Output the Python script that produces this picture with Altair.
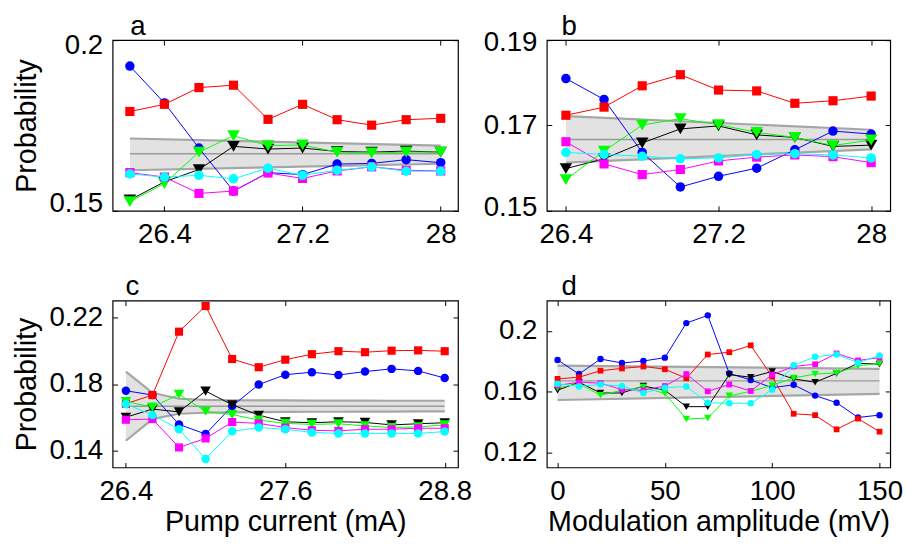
import altair as alt
import pandas as pd

FONT = "Liberation Sans"

# ---------------- data ----------------
series_names = ["blue", "red", "black", "green", "magenta", "cyan"]
series_colors = {"blue": "#0000ff", "red": "#ff0000", "black": "#000000",
                 "green": "#00ff00", "magenta": "#ff00ff", "cyan": "#00ffff"}
series_shapes = {"blue": "circle", "red": "square", "black": "triangle-down",
                 "green": "triangle-down", "magenta": "square", "cyan": "circle"}

# panel a
a_x = [26.2, 26.4, 26.6, 26.8, 27.0, 27.2, 27.4, 27.6, 27.8, 28.0]
a_red = [0.1791, 0.1812, 0.1861, 0.1868, 0.1768, 0.1812, 0.1767, 0.1751, 0.1767, 0.1771]
a_blue = [0.1924, 0.1816, 0.1684, 0.1558, 0.1612, 0.1606, 0.1637, 0.1639, 0.1650, 0.1641]
a_black = [0.1532, 0.1585, 0.1621, 0.1689, 0.1681, 0.1684, 0.1674, 0.1672, 0.1675, 0.1672]
a_green = [0.1527, 0.1580, 0.1672, 0.1720, 0.1691, 0.1693, 0.1672, 0.1670, 0.1672, 0.1672]
a_magenta = [0.1612, 0.1599, 0.1551, 0.1558, 0.1611, 0.1595, 0.1617, 0.1629, 0.1619, 0.1617]
a_cyan = [0.1608, 0.1599, 0.1604, 0.1594, 0.1625, 0.1604, 0.1619, 0.1629, 0.1616, 0.1616]
a_band_x = [26.2, 28.0]
a_band_hi = [0.1712, 0.1691]
a_band_lo = [0.1619, 0.1638]
a_band_mid = [0.1667, 0.1667]

# panel b
b_x = [26.4, 26.6, 26.8, 27.0, 27.2, 27.4, 27.6, 27.8, 28.0]
b_red = [0.1724, 0.1743, 0.1793, 0.1819, 0.1783, 0.1781, 0.1752, 0.1758, 0.1769]
b_blue = [0.1810, 0.1761, 0.1637, 0.1556, 0.1581, 0.1600, 0.1643, 0.1687, 0.1680]
b_black = [0.1599, 0.1622, 0.1659, 0.1692, 0.1699, 0.1678, 0.1672, 0.1651, 0.1654]
b_green = [0.1573, 0.1640, 0.1701, 0.1716, 0.1702, 0.1684, 0.1672, 0.1653, 0.1666]
b_magenta = [0.1662, 0.1610, 0.1585, 0.1597, 0.1617, 0.1626, 0.1631, 0.1627, 0.1613]
b_cyan = [0.1637, 0.1632, 0.1628, 0.1622, 0.1624, 0.1632, 0.1634, 0.1631, 0.1624]
b_band_x = [26.4, 28.0]
b_band_hi = [0.1722, 0.1690]
b_band_lo = [0.1613, 0.1644]
b_band_mid = [0.1667, 0.1667]

# panel c
c_x = [26.4, 26.6, 26.8, 27.0, 27.2, 27.4, 27.6, 27.8, 28.0, 28.2, 28.4, 28.6, 28.8]
c_red = [0.1682, 0.1734, 0.2114, 0.2268, 0.1950, 0.1901, 0.1946, 0.1979, 0.1997, 0.1991, 0.2000, 0.2002, 0.1997]
c_blue = [0.1760, 0.1734, 0.1558, 0.1500, 0.1668, 0.1797, 0.1856, 0.1871, 0.1854, 0.1875, 0.1891, 0.1879, 0.1836]
c_black = [0.1601, 0.1650, 0.1633, 0.1758, 0.1676, 0.1613, 0.1574, 0.1568, 0.1574, 0.1570, 0.1555, 0.1562, 0.1568]
c_green = [0.1695, 0.1662, 0.1738, 0.1637, 0.1617, 0.1584, 0.1564, 0.1558, 0.1562, 0.1549, 0.1539, 0.1543, 0.1555]
c_magenta = [0.1586, 0.1590, 0.1420, 0.1474, 0.1572, 0.1564, 0.1539, 0.1523, 0.1519, 0.1529, 0.1529, 0.1535, 0.1535]
c_cyan = [0.1680, 0.1615, 0.1529, 0.1351, 0.1517, 0.1539, 0.1529, 0.1510, 0.1504, 0.1504, 0.1504, 0.1504, 0.1515]
c_band_x = c_x
c_band_hi = [0.1875, 0.1748, 0.1712, 0.1705, 0.1703, 0.1702, 0.1702, 0.1701, 0.1701, 0.1701, 0.1700, 0.1700, 0.1700]
c_band_lo = [0.1460, 0.1590, 0.1622, 0.1628, 0.1630, 0.1632, 0.1633, 0.1634, 0.1634, 0.1635, 0.1635, 0.1636, 0.1636]
c_band_mid = [0.1667] * 13

# panel d
d_x = [0, 10, 20, 30, 40, 50, 60, 70, 80, 90, 100, 110, 120, 130, 140, 150]
d_blue = [0.1809, 0.1716, 0.1815, 0.1789, 0.1802, 0.1824, 0.2052, 0.2103, 0.1720, 0.1677, 0.1626, 0.1645, 0.1574, 0.1527, 0.1430, 0.1445]
d_red = [0.1684, 0.1695, 0.1738, 0.1753, 0.1766, 0.1748, 0.1688, 0.1845, 0.1860, 0.1905, 0.1699, 0.1454, 0.1445, 0.1351, 0.1422, 0.1336]
d_black = [0.1609, 0.1662, 0.1591, 0.1591, 0.1637, 0.1609, 0.1501, 0.1501, 0.1712, 0.1695, 0.1733, 0.1684, 0.1662, 0.1720, 0.1787, 0.1781]
d_green = [0.1624, 0.1652, 0.1576, 0.1609, 0.1630, 0.1587, 0.1419, 0.1426, 0.1572, 0.1602, 0.1641, 0.1690, 0.1716, 0.1723, 0.1770, 0.1785]
d_magenta = [0.1641, 0.1662, 0.1656, 0.1613, 0.1609, 0.1637, 0.1716, 0.1602, 0.1647, 0.1604, 0.1712, 0.1766, 0.1781, 0.1852, 0.1806, 0.1824]
d_cyan = [0.1652, 0.1634, 0.1647, 0.1637, 0.1591, 0.1626, 0.1634, 0.1527, 0.1523, 0.1523, 0.1613, 0.1774, 0.1830, 0.1845, 0.1791, 0.1839]
d_band_x = [0, 150]
d_band_hi = [0.1772, 0.1750]
d_band_lo = [0.1545, 0.1585]
d_band_mid = [0.1671, 0.1671]

# axis ticks
a_xticks, a_yticks = [26.4, 27.2, 28], [0.15, 0.2]
b_xticks, b_yticks = [26.4, 27.2, 28], [0.15, 0.17, 0.19]
c_xticks, c_yticks = [26.4, 27.6, 28.8], [0.14, 0.18, 0.22]
d_xticks, d_yticks = [0, 50, 100, 150], [0.12, 0.16, 0.2]

LABEL_EXPR = "format(datum.value, '~g')"


def panel(x, ys, bx, bhi, blo, bmid, xdom, ydom, xticks, yticks, letter, dx,
          toff, xtitle, ytitle, w, h, msize, ylab_offset):
    rows = []
    for name in series_names:
        for xv, yv in zip(x, ys[name]):
            rows.append({"x": xv, "y": yv, "s": name})
    df = pd.DataFrame(rows)
    band = pd.DataFrame({"x": bx, "hi": bhi, "lo": blo, "mid": bmid})

    xs = alt.Scale(domain=xdom, nice=False, zero=False)
    ysc = alt.Scale(domain=ydom, nice=False, zero=False)

    top_axis = alt.Axis(orient="top", values=xticks, labels=False, offset=-5,
                        tickSize=5, title=None, domain=False, grid=False)
    right_axis = alt.Axis(orient="right", values=yticks, labels=False, offset=-5,
                          tickSize=5, title=None, domain=False, grid=False)
    bottom_axis = alt.Axis(orient="bottom", values=xticks, labelExpr=LABEL_EXPR,
                           offset=-5, tickSize=5, labelPadding=10, labelFlush=False,
                           labelOverlap=False,
                           title=xtitle if xtitle else None, titlePadding=3,
                           domain=False, grid=False)
    left_kw = dict(orient="left", values=yticks, labelExpr=LABEL_EXPR, offset=-5,
                   tickSize=5, labelPadding=10, labelOverlap=False,
                   labelFlush=False,
                   title=ytitle if ytitle else None,
                   titlePadding=8, domain=False, grid=False)
    if ylab_offset is not None:
        left_kw["labelOffset"] = ylab_offset
    left_axis = alt.Axis(**left_kw)

    base_b = alt.Chart(band)
    area = base_b.mark_area(color="#e2e2e2", opacity=1).encode(
        x=alt.X("x:Q", scale=xs, axis=top_axis),
        y=alt.Y("hi:Q", scale=ysc, axis=right_axis),
        y2="lo:Q",
    )
    edges = [
        base_b.mark_line(color="#a6a6a6", strokeWidth=2.2).encode(
            x=alt.X("x:Q", scale=xs, axis=None),
            y=alt.Y(f"{col}:Q", scale=ysc, axis=None))
        for col in ["hi", "lo"]
    ]
    mid = base_b.mark_line(color="#9a9a9a", strokeWidth=1.5).encode(
        x=alt.X("x:Q", scale=xs, axis=None),
        y=alt.Y("mid:Q", scale=ysc, axis=None))

    layers = [area] + edges + [mid]
    for i, name in enumerate(series_names):
        shape = series_shapes[name]
        size = msize[shape]
        col = series_colors[name]
        lyr = alt.Chart(df).transform_filter(alt.datum.s == name).mark_line(
            color=col, strokeWidth=1,
            point=alt.OverlayMarkDef(shape=shape, size=size, filled=True,
                                     color=col, opacity=1, strokeWidth=0),
        ).encode(
            x=alt.X("x:Q", scale=xs, axis=bottom_axis if i == 0 else None),
            y=alt.Y("y:Q", scale=ysc, axis=left_axis if i == 0 else None),
        )
        layers.append(lyr)

    return alt.layer(*layers).properties(
        width=w, height=h,
        title=alt.TitleParams(letter, anchor="start", frame="group", dx=dx,
                              offset=toff, fontSize=28, font=FONT,
                              fontWeight="normal", color="black"),
    )


big = {"circle": 92, "square": 86, "triangle-down": 160}
mid_sz = {"circle": 74, "square": 68, "triangle-down": 115}
small = {"circle": 42, "square": 34, "triangle-down": 58}

a_lab_off = {"condition": {"test": "datum.value > 0.17", "value": 6}, "value": -7}
b_lab_off = {"condition": [{"test": "datum.value > 0.18", "value": 2},
                           {"test": "datum.value < 0.16", "value": -3}],
             "value": 0}

pa = panel(a_x, {"red": a_red, "blue": a_blue, "black": a_black, "green": a_green,
                 "magenta": a_magenta, "cyan": a_cyan},
           a_band_x, a_band_hi, a_band_lo, a_band_mid,
           [26.1, 28.1], [0.15, 0.2], a_xticks, a_yticks, "a", 18, -9,
           None, "Probability", 350, 173, big, a_lab_off)
pb = panel(b_x, {"red": b_red, "blue": b_blue, "black": b_black, "green": b_green,
                 "magenta": b_magenta, "cyan": b_cyan},
           b_band_x, b_band_hi, b_band_lo, b_band_mid,
           [26.3, 28.1], [0.15, 0.19], b_xticks, b_yticks, "b", 15, -13,
           None, None, 348, 173, big, b_lab_off)
pc = panel(c_x, {"red": c_red, "blue": c_blue, "black": c_black, "green": c_green,
                 "magenta": c_magenta, "cyan": c_cyan},
           c_band_x, c_band_hi, c_band_lo, c_band_mid,
           [26.3, 28.9], [0.13, 0.23], c_xticks, c_yticks, "c", 13, -1,
           "Pump current (mA)", "Probability", 350, 169, mid_sz, None)
pd_ = panel(d_x, {"red": d_red, "blue": d_blue, "black": d_black, "green": d_green,
                  "magenta": d_magenta, "cyan": d_cyan},
            d_band_x, d_band_hi, d_band_lo, d_band_mid,
            [-5, 155], [0.11, 0.22], d_xticks, d_yticks, "d", 15, -1,
            "Modulation amplitude (mV)", None, 348, 169, small, None)

chart = alt.concat(
    pa, pb, pc, pd_, columns=2, spacing={"row": 91, "column": 90}, bounds="flush"
).properties(
    padding={"left": 3, "top": 1, "right": 4, "bottom": 2},
    background="white",
).configure_axis(
    labelFont=FONT, titleFont=FONT, labelFontSize=28, titleFontSize=29,
    labelColor="black", titleColor="black", titleFontWeight="normal",
    tickColor="black", tickWidth=1, grid=False, domain=False,
).configure_view(
    stroke="black", strokeWidth=1.2,
)

chart.save("out.html", embed_options={"renderer": "svg", "actions": False})
